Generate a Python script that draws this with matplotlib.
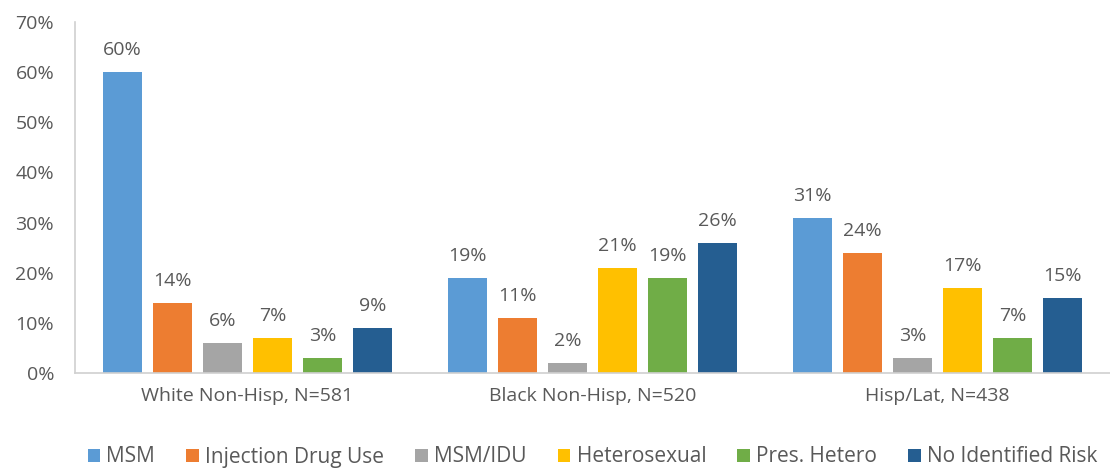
import matplotlib.pyplot as plt
import numpy as np

groups = ['White Non-Hisp, N=581', 'Black Non-Hisp, N=520', 'Hisp/Lat, N=438']
series = ['MSM', 'Injection Drug Use', 'MSM/IDU', 'Heterosexual', 'Pres. Hetero', 'No Identified Risk']
msm = [60, 19, 31]
idu = [14, 11, 24]
msm_idu = [6, 2, 3]
hetero = [7, 21, 17]
pres_hetero = [3, 19, 7]
nir = [9, 26, 15]
colors = ['#5b9bd5', '#ed7d31', '#a5a5a5', '#ffc000', '#70ad47', '#255e91']

plt.rcParams['font.family'] = ['Open Sans', 'DejaVu Sans']
txt = '#595959'

fig = plt.figure(figsize=(11.1, 4.69), dpi=100)
ax = fig.add_axes([75 / 1110, 1 - 373 / 469, 1035 / 1110, 351 / 469])

x = np.arange(len(groups))
step = 0.145
width = 0.113
for i, (name, vals) in enumerate(zip(series, [msm, idu, msm_idu, hetero, pres_hetero, nir])):
    pos = x + (i - 2.5) * step
    ax.bar(pos, vals, width, color=colors[i], label=name)
    for p, v in zip(pos, vals):
        ax.text(p, v + 2.6, f'{v}%', ha='center', va='bottom', fontsize=14, color=txt)

ax.set_xlim(-0.5, 2.5)
ax.set_ylim(0, 70)
ax.set_yticks(range(0, 71, 10))
ax.set_yticklabels([f'{t}%' for t in range(0, 71, 10)])
ax.set_xticks(x)
ax.set_xticklabels(groups)
ax.tick_params(axis='both', length=0, labelsize=14, colors=txt)
ax.tick_params(axis='y', pad=15)
ax.tick_params(axis='x', pad=10)
for s in ['top', 'right']:
    ax.spines[s].set_visible(False)
for s in ['left', 'bottom']:
    ax.spines[s].set_color('#d0d0d0')
    ax.spines[s].set_linewidth(1.2)

leg = ax.legend(loc='center', bbox_to_anchor=(0.5, -(457 - 373) / 351), ncol=6, frameon=False,
                fontsize=15, handlelength=0.6, handleheight=0.6, handletextpad=0.3,
                columnspacing=1.5, borderpad=0)
for t in leg.get_texts():
    t.set_color(txt)

fig.savefig('out.png', dpi=100)
